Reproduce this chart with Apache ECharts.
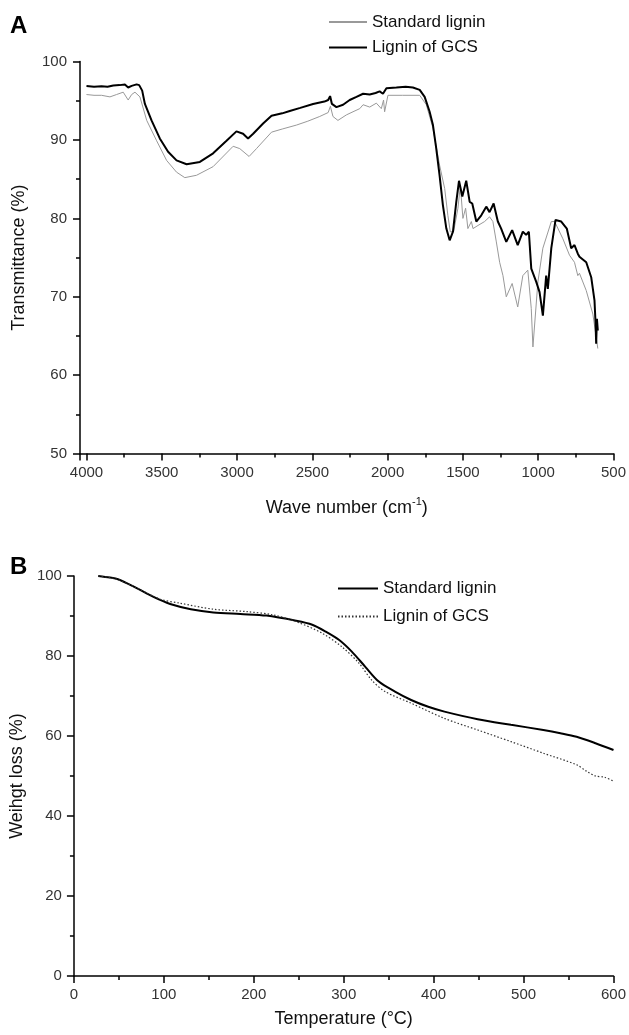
<!DOCTYPE html>
<html><head><meta charset="utf-8">
<script src="https://cdn.jsdelivr.net/npm/echarts@6/dist/echarts.min.js"></script>
<style>html,body{margin:0;padding:0;background:#fff}#c{width:629px;height:1035px}</style>
</head><body><div id="c"></div>
<script>
// ---- Panel A: FTIR ----
const ftirWnGcs = [4000,3950,3900,3860,3822,3780,3745,3723,3700,3667,3650,3630,3612,3568,3513,3458,3402,3335,3247,3159,3070,3004,2960,2927,2893,2827,2771,2700,2650,2580,2495,2420,2395,2382,2370,2340,2296,2252,2207,2163,2119,2080,2053,2031,2008,1942,1880,1832,1787,1754,1721,1699,1677,1655,1633,1610,1588,1566,1544,1526,1504,1478,1455,1438,1411,1378,1345,1323,1296,1268,1246,1212,1173,1136,1102,1080,1062,1046,1013,991,969,947,936,913,885,847,810,781,759,737,726,681,648,626,619,615,610,604];
const ftirGcs = [96.9,96.8,96.85,96.8,96.95,97.0,97.07,96.7,96.9,97.1,97.0,96.3,94.6,92.5,90.2,88.5,87.4,86.9,87.2,88.3,89.9,91.1,90.8,90.2,90.8,92.1,93.1,93.4,93.7,94.1,94.6,94.9,95.1,95.6,94.6,94.2,94.5,95.1,95.5,95.9,95.8,96.0,96.2,95.9,96.6,96.7,96.8,96.7,96.4,95.5,93.6,91.9,88.9,85.5,81.7,78.7,77.2,78.3,82.1,84.8,82.8,84.8,82.1,81.9,79.6,80.4,81.5,80.8,81.9,79.6,78.7,77.0,78.5,76.6,78.3,77.9,78.3,73.6,71.9,70.6,67.6,72.7,71.0,76.2,79.8,79.6,78.7,76.2,76.6,75.5,75.1,74.4,72.5,69.5,66.6,64.0,67.2,65.7];
const ftirWnStd = [4000,3950,3900,3844,3800,3756,3723,3700,3678,3645,3600,3534,3468,3402,3347,3269,3159,3026,2982,2920,2871,2771,2700,2606,2530,2451,2395,2380,2363,2330,2274,2230,2185,2163,2119,2075,2042,2027,2020,1998,1900,1787,1743,1699,1655,1621,1600,1584,1562,1533,1517,1500,1482,1467,1444,1433,1400,1356,1323,1301,1278,1256,1234,1212,1173,1136,1102,1069,1046,1035,1002,969,913,891,836,792,759,737,726,681,637,615,604];
const ftirStd = [95.8,95.7,95.7,95.5,95.8,96.1,95.1,95.8,96.1,95.5,92.5,89.9,87.4,85.9,85.2,85.5,86.6,89.2,88.9,87.9,88.9,91.0,91.4,91.9,92.4,93.0,93.5,94.3,93.0,92.5,93.2,93.6,94.0,94.5,94.2,94.7,94.0,95.1,93.6,95.7,95.7,95.7,94.5,91.5,86.8,83.8,80.4,78.3,78.3,81.3,84.2,80.0,81.3,78.7,79.6,78.7,79.1,79.6,80.2,79.6,77.0,74.4,72.7,70.0,71.7,68.7,72.7,73.4,68.5,63.6,71.9,76.2,79.6,79.6,77.4,75.3,74.4,72.7,73.0,70.8,67.8,64.9,63.4];

// ---- Panel B: TGA ----
const tgaTStd = [27,40,49,67,89,107,130,155,185,214,247,265,280,295,309,324,339,357,375,394,412,449,486,522,541,559,580,600];
const tgaStd = [100,99.6,99.2,97.3,94.7,93.0,91.7,90.9,90.5,90.1,88.8,87.8,86.1,84.0,81.1,77.3,73.6,71.1,69.0,67.3,66.1,64.2,62.8,61.5,60.7,59.8,58.2,56.5];
const tgaTGcs = [27,40,49,67,96,118,155,192,221,247,276,298,317,331,346,375,412,449,486,522,559,570,580,590,600];
const tgaGcs = [100,99.6,99.1,97.3,94.2,93.2,91.7,91.1,90.3,88.6,85.7,82.3,78.2,74.0,71.1,68.2,64.4,61.5,58.6,55.7,52.8,51.2,50.0,49.7,48.7];

const seriesNames = ['Standard lignin', 'Lignin of GCS'];
const panelLabels = ['A', 'B'];

const zip = (xs, ys) => xs.map((x, i) => [x, ys[i]]);
const FONT = '"Liberation Sans", Arial, Helvetica, sans-serif';
const plain = v => String(v);

const axisCommon = {
  axisLine: { show: true, onZero: false, lineStyle: { color: '#000', width: 1.5 } },
  axisTick: { show: true, inside: false, length: 7, lineStyle: { color: '#000', width: 1.5 } },
  minorTick: { show: true, splitNumber: 2, length: 4, lineStyle: { color: '#000', width: 1.5 } },
  splitLine: { show: false },
  axisLabel: { color: '#333', fontSize: 15, fontFamily: FONT, formatter: plain },
  nameTextStyle: { color: '#111', fontSize: 18, fontFamily: FONT }
};

const legendCommon = {
  orient: 'vertical', padding: 0, itemHeight: 14, selectedMode: false,
  formatter: n => n.slice(2),
  itemStyle: { opacity: 0, borderWidth: 0 },
  textStyle: { fontSize: 17, color: '#111', fontFamily: FONT }
};

const chart = echarts.init(document.getElementById('c'), null, { renderer: 'canvas' });
chart.setOption({
  animation: false,
  backgroundColor: '#fff',
  textStyle: { fontFamily: FONT },
  grid: [
    { left: 80, top: 61.6, width: 534, height: 392 },
    { left: 72.5, top: 576, width: 544, height: 400 }
  ],
  xAxis: [
    Object.assign({}, axisCommon, {
      gridIndex: 0, type: 'value', inverse: true, min: 500, max: 4043, interval: 500,
      axisLabel: Object.assign({}, axisCommon.axisLabel, { margin: 12, showMaxLabel: false }),
      name: '{a|Wave number (cm}{s|-1}{a|)}', nameLocation: 'middle', nameGap: 43,
      nameTextStyle: { rich: {
        a: { fontSize: 18, lineHeight: 22, color: '#111', fontFamily: FONT },
        s: { fontSize: 11, lineHeight: 12, color: '#111', fontFamily: FONT, verticalAlign: 'top' }
      } }
    }),
    Object.assign({}, axisCommon, {
      gridIndex: 1, type: 'value', min: 0, max: 600, interval: 100,
      axisLabel: Object.assign({}, axisCommon.axisLabel, { margin: 11 }),
      name: 'Temperature (°C)', nameLocation: 'middle', nameGap: 34
    })
  ],
  yAxis: [
    Object.assign({}, axisCommon, {
      gridIndex: 0, type: 'value', min: 50, max: 100, interval: 10,
      axisLabel: Object.assign({}, axisCommon.axisLabel, { margin: 13 }),
      name: 'Transmittance (%)', nameLocation: 'middle', nameGap: 52
    }),
    Object.assign({}, axisCommon, {
      gridIndex: 1, type: 'value', min: 0, max: 100, interval: 20,
      axisLabel: Object.assign({}, axisCommon.axisLabel, { margin: 12 }),
      name: 'Weihgt loss (%)', nameLocation: 'middle', nameGap: 45
    })
  ],
  legend: [
    Object.assign({}, legendCommon, { data: ['A:' + seriesNames[0], 'A:' + seriesNames[1]],
      left: 328, top: 13.5, itemWidth: 38, itemGap: 8.6 }),
    Object.assign({}, legendCommon, { data: ['B:' + seriesNames[0], 'B:' + seriesNames[1]],
      left: 337, top: 580, itemWidth: 40, itemGap: 11 })
  ],
  graphic: [
    { type: 'text', left: 10, top: 14, style: { text: panelLabels[0], font: 'bold 24px ' + FONT, fill: '#000' } },
    { type: 'text', left: 10, top: 555, style: { text: panelLabels[1], font: 'bold 24px ' + FONT, fill: '#000' } }
  ],
  series: [
    { name: 'A:' + seriesNames[0], type: 'line', xAxisIndex: 0, yAxisIndex: 0, data: zip(ftirWnStd, ftirStd),
      symbol: 'none', lineStyle: { color: '#999', width: 1 }, itemStyle: { color: '#999' } },
    { name: 'A:' + seriesNames[1], type: 'line', xAxisIndex: 0, yAxisIndex: 0, data: zip(ftirWnGcs, ftirGcs),
      symbol: 'none', lineStyle: { color: '#000', width: 2 }, itemStyle: { color: '#000' } },
    { name: 'B:' + seriesNames[0], type: 'line', xAxisIndex: 1, yAxisIndex: 1, data: zip(tgaTStd, tgaStd),
      symbol: 'none', smooth: 0.3, lineStyle: { color: '#000', width: 2 }, itemStyle: { color: '#000' } },
    { name: 'B:' + seriesNames[1], type: 'line', xAxisIndex: 1, yAxisIndex: 1, data: zip(tgaTGcs, tgaGcs),
      symbol: 'none', smooth: 0.3, lineStyle: { color: '#333', width: 1.2, type: [1.5, 2] }, itemStyle: { color: '#333' } }
  ]
});
</script>
</body></html>
